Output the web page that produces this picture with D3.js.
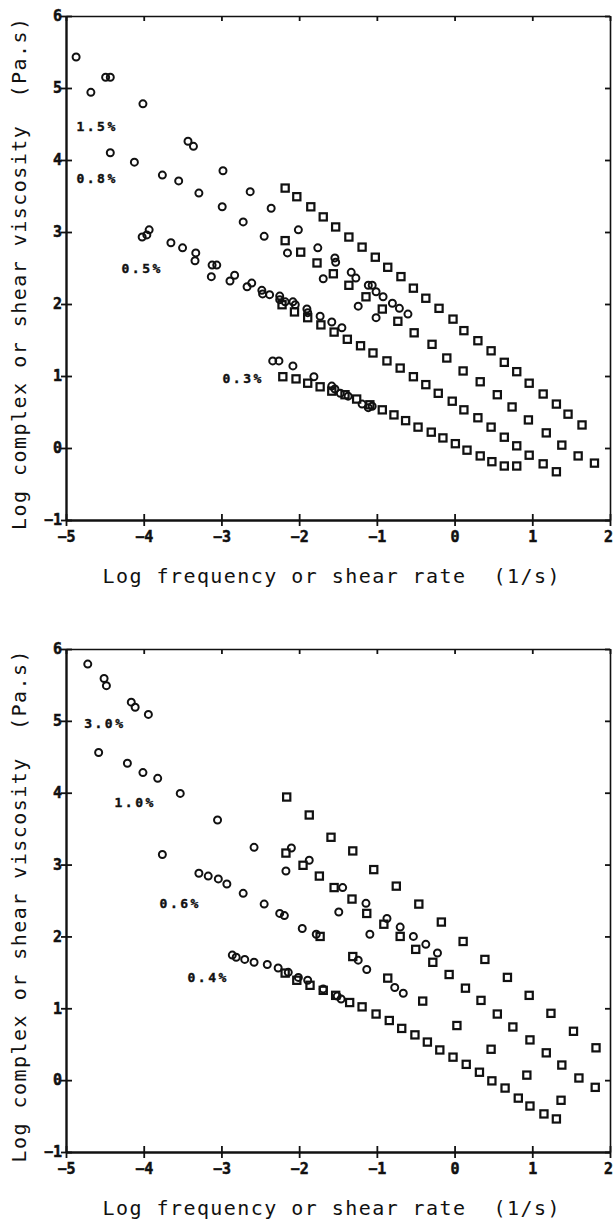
<!DOCTYPE html>
<html>
<head>
<meta charset="utf-8">
<script src="https://cdnjs.cloudflare.com/ajax/libs/d3/7.8.5/d3.min.js"></script>
<style>
body { margin: 0; background: #fff; }
svg text { font-family: "DejaVu Sans Mono", monospace; fill: #111; }
.title { font-size: 20px; }
</style>
</head>
<body>
<div id="chart"></div>
<script>
var xTicks = [-5, -4, -3, -2, -1, 0, 1, 2];
var yTicks = [-1, 0, 1, 2, 3, 4, 5, 6];
var xTitle = "Log frequency or shear rate  (1/s)";
var yTitle = "Log complex or shear viscosity  (Pa.s)";

// upper panel: circles = complex viscosity, squares = shear viscosity
var c15 = [[-4.87,5.43],[-4.68,4.94],[-4.49,5.15],[-4.43,5.15],[-4.01,4.78],[-3.43,4.26],[-3.36,4.19],[-2.98,3.85],[-2.63,3.56],[-2.36,3.33],[-2.01,3.03],[-1.76,2.78],[-1.54,2.64],[-1.53,2.58],[-1.33,2.44],[-1.27,2.36],[-1.11,2.26],[-1.06,2.26],[-1.01,2.17],[-0.92,2.10],[-0.80,2.01],[-0.71,1.94],[-0.60,1.86]];
var s15 = [[-2.18,3.61],[-2.03,3.49],[-1.85,3.35],[-1.69,3.21],[-1.53,3.07],[-1.36,2.93],[-1.19,2.79],[-1.02,2.65],[-0.86,2.51],[-0.69,2.38],[-0.53,2.22],[-0.37,2.08],[-0.20,1.94],[-0.02,1.79],[0.12,1.63],[0.30,1.49],[0.47,1.35],[0.64,1.19],[0.80,1.06],[0.96,0.90],[1.14,0.75],[1.31,0.61],[1.46,0.47],[1.64,0.32]];
var c08 = [[-4.43,4.10],[-4.12,3.97],[-3.76,3.79],[-3.55,3.71],[-3.29,3.54],[-2.99,3.35],[-2.72,3.14],[-2.45,2.94],[-2.15,2.71],[-1.69,2.35],[-1.24,1.97],[-1.01,1.81]];
var s08 = [[-2.18,2.88],[-1.98,2.72],[-1.77,2.57],[-1.56,2.42],[-1.36,2.26],[-1.14,2.10],[-0.93,1.93],[-0.73,1.76],[-0.52,1.60],[-0.29,1.44],[-0.10,1.25],[0.11,1.07],[0.33,0.92],[0.55,0.74],[0.74,0.57],[0.95,0.39],[1.18,0.21],[1.38,0.04],[1.59,-0.11],[1.80,-0.21]];
var c05 = [[-4.02,2.93],[-3.96,2.96],[-3.93,3.03],[-3.65,2.85],[-3.50,2.78],[-3.33,2.71],[-3.34,2.60],[-3.13,2.38],[-3.12,2.54],[-3.06,2.54],[-2.89,2.32],[-2.83,2.40],[-2.67,2.24],[-2.61,2.29],[-2.48,2.19],[-2.47,2.14],[-2.38,2.13],[-2.25,2.11],[-2.25,2.06],[-2.18,2.03],[-2.08,2.03],[-2.05,1.99],[-1.90,1.93],[-1.89,1.88],[-1.73,1.83],[-1.58,1.75],[-1.45,1.67]];
var s05 = [[-2.22,1.99],[-2.06,1.89],[-1.89,1.81],[-1.72,1.71],[-1.55,1.61],[-1.38,1.51],[-1.21,1.42],[-1.05,1.32],[-0.87,1.21],[-0.70,1.11],[-0.53,0.99],[-0.37,0.88],[-0.21,0.76],[-0.03,0.65],[0.12,0.53],[0.30,0.42],[0.47,0.29],[0.64,0.15],[0.80,0.03],[0.96,-0.10],[1.14,-0.22],[1.31,-0.33]];
var c03 = [[-2.34,1.21],[-2.26,1.21],[-2.08,1.14],[-1.81,0.99],[-1.58,0.86],[-1.54,0.82],[-1.47,0.76],[-1.37,0.72],[-1.19,0.61],[-1.11,0.56],[-1.06,0.58]];
var s03 = [[-2.21,0.99],[-2.04,0.96],[-1.89,0.90],[-1.73,0.85],[-1.58,0.79],[-1.41,0.74],[-1.26,0.68],[-1.09,0.60],[-0.93,0.53],[-0.78,0.46],[-0.63,0.38],[-0.47,0.29],[-0.30,0.22],[-0.15,0.14],[0.01,0.06],[0.16,-0.03],[0.33,-0.11],[0.48,-0.19],[0.64,-0.25],[0.80,-0.25]];
var labelsUpper = [["1.5%",-4.60,4.47],["0.8%",-4.60,3.75],["0.5%",-4.02,2.49],["0.3%",-2.72,0.96]];

// lower panel
var c30 = [[-4.72,5.79],[-4.51,5.59],[-4.48,5.49],[-4.16,5.26],[-4.11,5.19],[-3.94,5.09]];
var s30 = [[-2.16,3.94],[-1.87,3.69],[-1.59,3.38],[-1.31,3.19],[-1.04,2.93],[-0.75,2.70],[-0.46,2.45],[-0.17,2.20],[0.11,1.93],[0.39,1.68],[0.68,1.43],[0.96,1.18],[1.24,0.93],[1.53,0.68],[1.82,0.45]];
var c10 = [[-4.58,4.56],[-4.21,4.41],[-4.01,4.28],[-3.82,4.20],[-3.53,3.99],[-3.05,3.62],[-2.58,3.24],[-2.17,2.91],[-2.10,3.23],[-1.87,3.06],[-1.44,2.68],[-1.49,2.34],[-1.14,2.46],[-1.09,2.03],[-0.87,2.25],[-0.70,2.13],[-0.53,2.00],[-0.37,1.89],[-0.22,1.77]];
var s10 = [[-2.17,3.16],[-1.95,2.99],[-1.74,2.84],[-1.55,2.68],[-1.32,2.52],[-1.13,2.32],[-0.91,2.17],[-0.70,2.00],[-0.50,1.82],[-0.28,1.64],[-0.07,1.47],[0.14,1.28],[0.34,1.11],[0.55,0.92],[0.75,0.74],[0.97,0.56],[1.18,0.38],[1.38,0.21],[1.60,0.03],[1.81,-0.10]];
var c06 = [[-3.76,3.14],[-3.29,2.88],[-3.17,2.84],[-3.04,2.80],[-2.93,2.73],[-2.72,2.60],[-2.45,2.45],[-2.25,2.32],[-2.19,2.29],[-1.96,2.11],[-1.78,2.03],[-1.24,1.67],[-1.13,1.54],[-0.77,1.29],[-0.66,1.21]];
var s06 = [[-1.73,2.00],[-1.31,1.72],[-0.86,1.42],[-0.41,1.10],[0.03,0.76],[0.47,0.43],[0.93,0.07],[1.37,-0.28]];
var c04 = [[-2.86,1.74],[-2.81,1.71],[-2.70,1.68],[-2.58,1.64],[-2.41,1.61],[-2.27,1.56],[-2.14,1.50],[-2.01,1.43],[-1.89,1.39],[-1.69,1.27],[-1.51,1.17],[-1.46,1.13]];
var s04 = [[-2.18,1.49],[-2.03,1.39],[-1.86,1.32],[-1.69,1.25],[-1.53,1.18],[-1.35,1.08],[-1.19,1.02],[-1.01,0.92],[-0.84,0.83],[-0.68,0.72],[-0.51,0.63],[-0.35,0.53],[-0.19,0.42],[-0.02,0.32],[0.15,0.22],[0.32,0.11],[0.48,-0.01],[0.65,-0.11],[0.82,-0.25],[0.97,-0.36],[1.15,-0.47],[1.31,-0.54]];
var labelsLower = [["3.0%",-4.50,4.97],["1.0%",-4.11,3.87],["0.6%",-3.53,2.46],["0.4%",-3.17,1.43]];

var W = 614, H = 1219;
var svg = d3.select("#chart").append("svg")
    .attr("width", W)
    .attr("height", H);

function drawPanel(options) {
    var left = 66, right = 610;
    var x = d3.scaleLinear().domain([-5, 2]).range([left, right]);
    var y = d3.scaleLinear().domain([-1, 6]).range([options.bottom, options.top]);
    var g = svg.append("g");

    // top and right: inner ticks, no labels
    var topAx = g.append("g")
        .attr("transform", "translate(0," + options.top + ")")
        .call(d3.axisTop(x).tickValues(xTicks).tickSize(-5).tickSizeOuter(0).tickFormat(""));
    var rightAx = g.append("g")
        .attr("transform", "translate(" + right + ",0)")
        .call(d3.axisRight(y).tickValues(yTicks).tickSize(-5).tickSizeOuter(0).tickFormat(""));
    topAx.select(".domain").attr("stroke-width", 1.6);
    rightAx.select(".domain").attr("stroke-width", 1.6);

    // bottom and left: crossing ticks with labels
    var bottomAx = g.append("g")
        .attr("transform", "translate(0," + options.bottom + ")")
        .call(d3.axisBottom(x).tickValues(xTicks).tickSize(6).tickSizeOuter(0).tickFormat(d3.format("d")));
    bottomAx.selectAll(".tick line").attr("y1", -6).attr("y2", 6);
    bottomAx.selectAll(".tick text")
        .attr("y", 15)
        .attr("dy", "0.45em")
        .attr("x", function (d) { return d === 2 ? -2 : 0; });

    var leftAx = g.append("g")
        .attr("transform", "translate(" + left + ",0)")
        .call(d3.axisLeft(y).tickValues(yTicks).tickSize(6).tickSizeOuter(0).tickFormat(d3.format("d")));
    leftAx.selectAll(".tick line").attr("x1", -5).attr("x2", 6);
    leftAx.selectAll(".tick text").attr("x", -4);
    bottomAx.select(".domain").attr("stroke-width", 2.4);
    leftAx.select(".domain").attr("stroke-width", 2.4);

    [bottomAx, leftAx].forEach(function (ax) {
        ax.attr("font-size", 15)
            .attr("font-family", "DejaVu Sans Mono")
            .attr("font-weight", "bold");
    });

    g.selectAll(".domain").attr("stroke", "#111");
    g.selectAll(".tick line").attr("stroke", "#111").attr("stroke-width", 1.8);
    g.selectAll(".tick text")
        .attr("fill", "#111")
        .attr("stroke", "#111")
        .attr("stroke-width", 0.5);

    // circles
    options.circles.forEach(function (set) {
        g.selectAll(null)
            .data(set)
            .enter().append("circle")
            .attr("cx", function (d) { return x(d[0]); })
            .attr("cy", function (d) { return y(d[1]); })
            .attr("r", 3.5)
            .attr("fill", "none")
            .attr("stroke", "#111")
            .attr("stroke-width", 2);
    });

    // squares
    var side = 7.2;
    options.squares.forEach(function (set) {
        g.selectAll(null)
            .data(set)
            .enter().append("rect")
            .attr("x", function (d) { return x(d[0]) - side / 2; })
            .attr("y", function (d) { return y(d[1]) - side / 2; })
            .attr("width", side)
            .attr("height", side)
            .attr("fill", "none")
            .attr("stroke", "#111")
            .attr("stroke-width", 2.2);
    });

    g.selectAll(".conc")
        .data(options.labels)
        .enter().append("text")
        .attr("class", "conc")
        .attr("x", function (d) { return x(d[1]); })
        .attr("y", function (d) { return y(d[2]); })
        .attr("dy", "0.35em")
        .attr("text-anchor", "middle")
        .attr("stroke", "#111")
        .attr("stroke-width", 0.4)
        .attr("font-size", 13)
        .attr("font-weight", "bold")
        .attr("letter-spacing", 2.5)
        .text(function (d) { return d[0]; });

    g.append("text")
        .attr("class", "title")
        .attr("x", 331)
        .attr("y", options.bottom + 63)
        .attr("text-anchor", "middle")
        .attr("textLength", 457)
        .attr("lengthAdjust", "spacing")
        .style("white-space", "pre")
        .text(xTitle);

    g.append("text")
        .attr("class", "title")
        .attr("transform", "translate(26," + ((options.top + options.bottom) / 2 + 6) + ") rotate(-90)")
        .attr("text-anchor", "middle")
        .attr("textLength", 512)
        .attr("lengthAdjust", "spacing")
        .style("white-space", "pre")
        .text(yTitle);
}

drawPanel({ top: 16, bottom: 520, circles: [c15, c08, c05, c03], squares: [s15, s08, s05, s03], labels: labelsUpper });
drawPanel({ top: 649, bottom: 1152, circles: [c30, c10, c06, c04], squares: [s30, s10, s06, s04], labels: labelsLower });
</script>
</body>
</html>
